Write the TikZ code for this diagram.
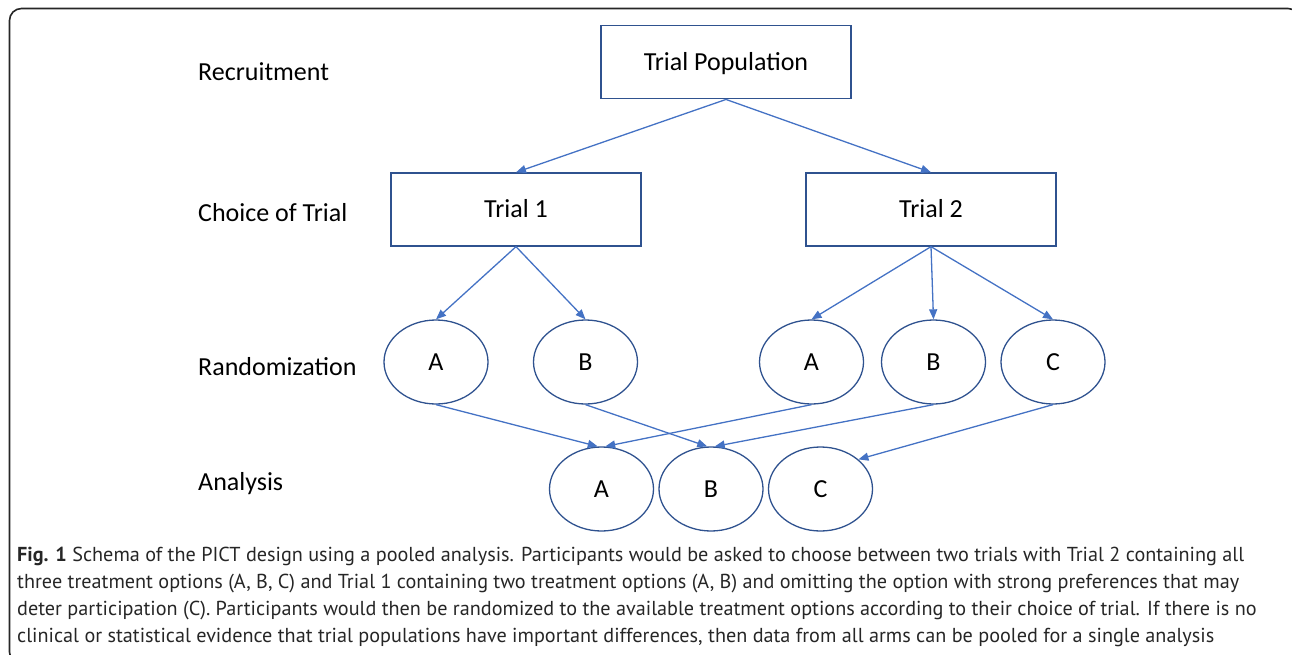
\documentclass[tikz,border=0pt]{standalone}
\usepackage{fontspec}
\setmainfont{Carlito}
\newfontfamily\capfont{PT Sans}
\usetikzlibrary{arrows.meta,shapes.geometric}
\definecolor{linkblue}{HTML}{4472C4}
\definecolor{edgeblue}{HTML}{2F528F}
\begin{document}
\begin{tikzpicture}[x=1pt,y=-1pt,
  txt/.style={font=\fontsize{26}{30}\selectfont,text height=16.7pt,text depth=0pt},
  lbl/.style={txt,anchor=west,inner sep=0pt},
  boxnode/.style={txt,draw=edgeblue,line width=1.3pt,minimum width=250pt,minimum height=73pt,inner sep=0pt},
  arm/.style={txt,ellipse,draw=edgeblue,line width=1.3pt,minimum width=104pt,minimum height=84pt,inner sep=0pt},
  link/.style={draw=linkblue,line width=1.3pt,-{Triangle[length=10pt,width=8pt]}},
  capline/.style={anchor=base west,inner sep=0pt,font=\capfont\fontsize{20.2}{24}\selectfont,text=black!85},
  frame/.style={draw=black!85,line width=1.6pt,rounded corners=12pt}]
\useasboundingbox (0,0) rectangle (1292,655);
\clip (0,0) rectangle (1292,655);
\path[frame] (9.5,8.5) rectangle (1300,664);

% row labels
\node[lbl] (lrec) at (198,72.5) {Recruitment};
\node[lbl] (lcho) at (198,213.5) {Choice of Trial};
\node[lbl] (lran) at (198,367) {Randomization};
\node[lbl] (lana) at (198,482) {Analysis};

% boxes
\node[boxnode] (pop) at (726,62.3) {Trial Population};
\node[boxnode] (t1) at (516,209.5) {Trial 1};
\node[boxnode] (t2) at (931,209.5) {Trial 2};

% randomization arms
\node[arm] (a1) at (436,362) {A};
\node[arm] (b1) at (585.5,362) {B};
\node[arm] (a2) at (811.5,362) {A};
\node[arm] (b2) at (933.5,362) {B};
\node[arm] (c2) at (1053,362) {C};

% analysis arms
\node[arm] (aa) at (601.5,489) {A};
\node[arm] (ab) at (711,489) {B};
\node[arm] (ac) at (820.5,489) {C};

% connectors
\draw[link] (pop.south) -- (t1.north);
\draw[link] (pop.south) -- (t2.north);
\draw[link] (t1.south) -- (a1.north);
\draw[link] (t1.south) -- (b1.north);
\draw[link] (t2.south) -- (a2.north);
\draw[link] (t2.south) -- (b2.north);
\draw[link] (t2.south) -- (c2.north);
\draw[link] (a1.south) -- (aa.95);
\draw[link] (a2.south) -- (aa.85);
\draw[link] (b1.south) -- (ab.95);
\draw[link] (b2.south) -- (ab.85);
\draw[link] (c2.south) -- (ac.38);

% caption
\node[capline] (cap1) at (17,561) {\textbf{Fig. 1} Schema of the PICT design using a pooled analysis. Participants would be asked to choose between two trials with Trial 2 containing all};
\node[capline] (cap2) at (17,588) {three treatment options (A, B, C) and Trial 1 containing two treatment options (A, B) and omitting the option with strong preferences that may};
\node[capline] (cap3) at (17,615) {deter participation (C). Participants would then be randomized to the available treatment options according to their choice of trial. If there is no};
\node[capline] (cap4) at (17,642) {clinical or statistical evidence that trial populations have important differences, then data from all arms can be pooled for a single analysis};
\end{tikzpicture}
\end{document}
